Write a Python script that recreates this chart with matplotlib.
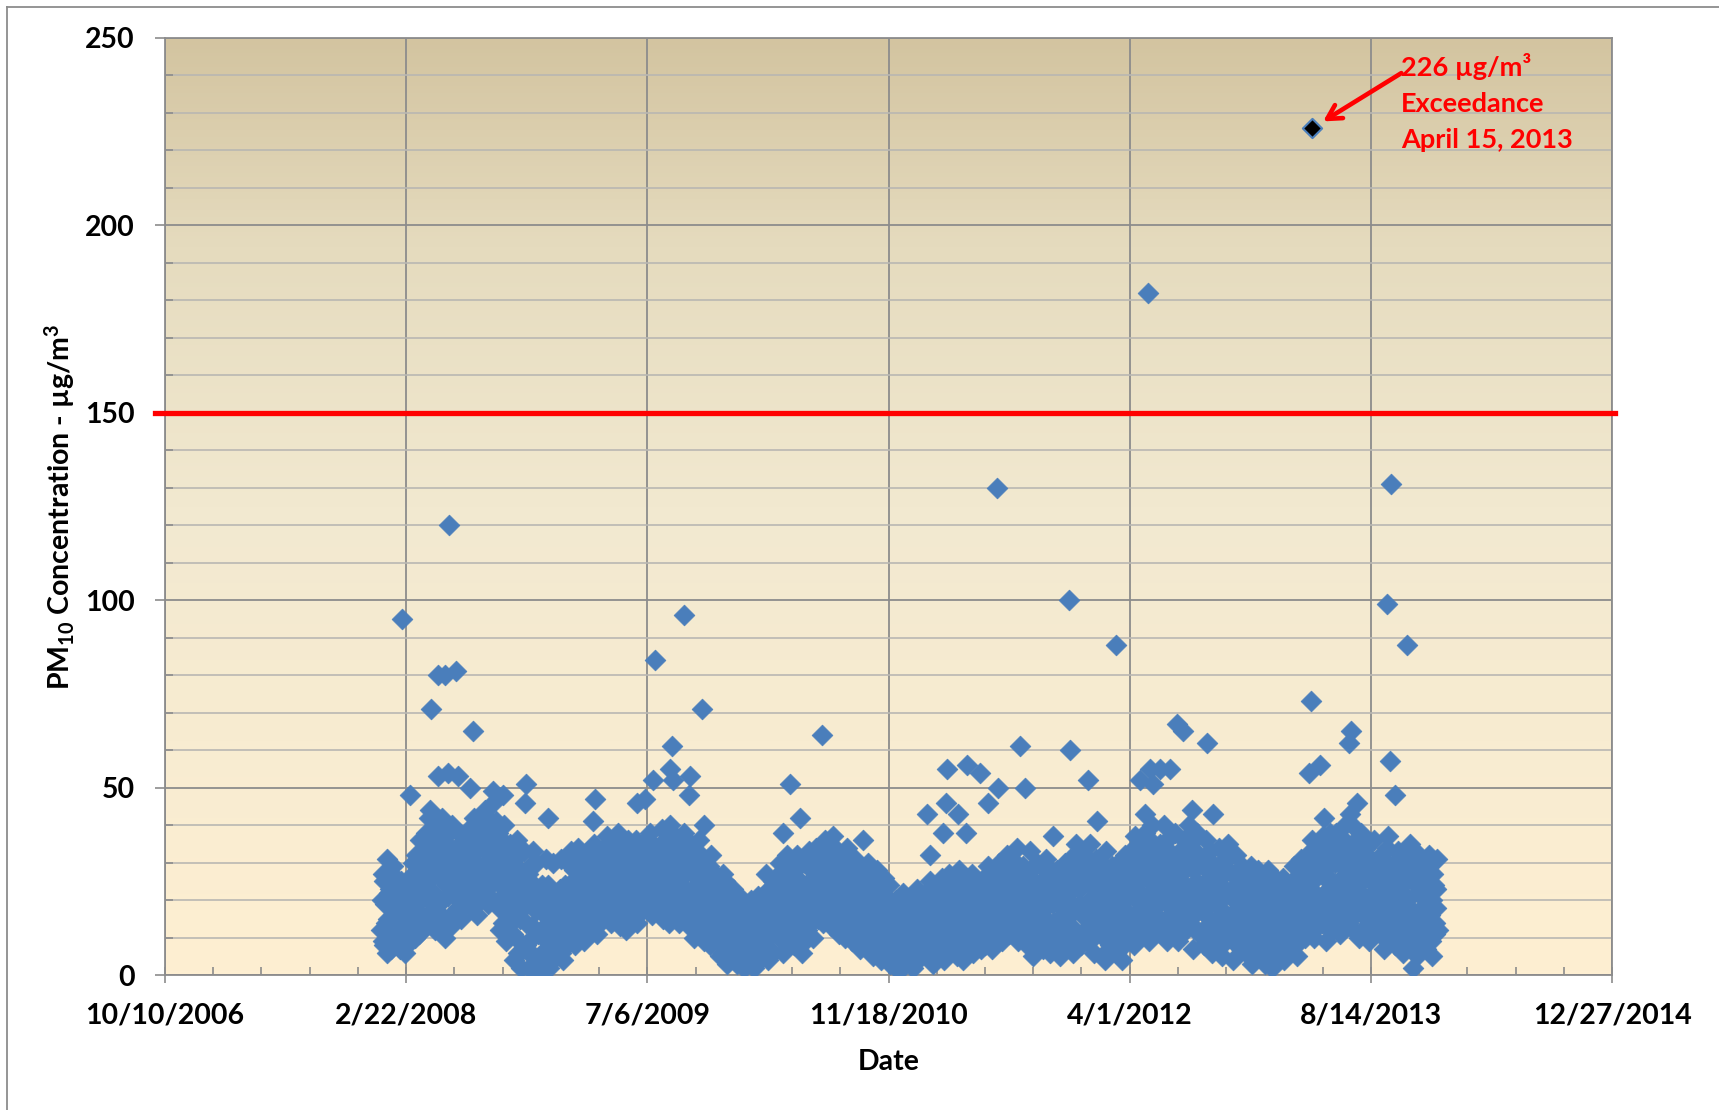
import matplotlib
matplotlib.use("Agg")
import matplotlib.pyplot as plt
import matplotlib.dates as mdates
from matplotlib.ticker import FixedLocator, FuncFormatter, MultipleLocator
from matplotlib.colors import LinearSegmentedColormap
from matplotlib.lines import Line2D
import numpy as np
import pandas as pd

# ---------------- data ----------------
# Routine PM10 samples, run A: every 3 days starting Jan 1 of each year
pm10_2008 = [12, 27, 8, 19, 31, 15, 23, 7, 29, 17,
             10, 22, 16, 7, 25, 13, 19, 9, 24, 14,
             18, 9, 27, 14, 32, 21, 11, 36, 16, 25,
             24, 38, 14, 30, 44, 19, 35, 12, 41, 27,
             33, 16, 42, 25, 10, 37, 21, 29, 13, 40,
             27, 17, 34, 22, 38, 15, 30, 24, 36, 19,
             23, 39, 18, 31, 42, 26, 16, 35, 29, 21,
             34, 22, 44, 28, 19, 40, 31, 46, 25, 37,
             26, 38, 12, 31, 20, 40, 9, 28, 17, 35,
             14, 30, 4, 22, 36, 9, 26, 2, 18, 33,
             8, 21, 2, 29, 13, 33, 5, 17, 23, 1,
             11, 24, 3, 18, 31, 7, 15, 22, 4, 30,
             9, 20]
pm10_2009 = [7, 19, 31, 12, 4, 22, 15, 30, 9, 17,
             13, 28, 8, 21, 34, 16, 24, 10, 31, 19,
             20, 33, 12, 27, 16, 35, 23, 11, 30, 18,
             25, 15, 34, 21, 37, 18, 29, 14, 32, 23,
             30, 19, 38, 13, 26, 35, 21, 12, 33, 24,
             22, 34, 16, 28, 36, 14, 25, 31, 19, 27,
             28, 18, 36, 24, 38, 16, 31, 21, 34, 26,
             32, 20, 39, 15, 27, 36, 23, 14, 40, 29,
             24, 37, 17, 30, 14, 34, 21, 38, 27, 16,
             29, 13, 35, 22, 10, 31, 18, 26, 36, 15,
             20, 9, 30, 15, 25, 8, 32, 17, 12, 27,
             12, 24, 5, 18, 27, 8, 15, 3, 21, 10,
             6, 17]
pm10_2010 = [9, 17, 3, 13, 21, 6, 15, 2, 19, 11,
             14, 4, 20, 10, 2, 17, 7, 21, 12, 5,
             8, 19, 27, 12, 4, 23, 15, 6, 25, 17,
             21, 10, 30, 16, 6, 26, 13, 32, 19, 9,
             15, 28, 8, 22, 32, 11, 25, 6, 19, 30,
             24, 12, 33, 18, 28, 10, 21, 34, 15, 27,
             19, 31, 14, 36, 24, 17, 29, 13, 34, 22,
             27, 16, 33, 11, 23, 30, 19, 10, 34, 21,
             15, 28, 9, 22, 31, 12, 18, 7, 26, 20,
             23, 8, 17, 30, 11, 26, 5, 20, 14, 28,
             10, 21, 4, 16, 26, 7, 13, 24, 3, 18,
             14, 5, 20, 9, 1, 17, 11, 22, 3, 15,
             7, 19]
pm10_2011 = [6, 16, 2, 21, 11, 23, 4, 14, 19, 8,
             13, 22, 5, 17, 25, 9, 3, 20, 11, 24,
             18, 7, 26, 12, 4, 22, 15, 27, 9, 20,
             10, 24, 16, 5, 28, 13, 21, 4, 18, 26,
             22, 9, 17, 27, 6, 14, 25, 11, 20, 7,
             15, 26, 8, 20, 29, 12, 23, 7, 18, 28,
             24, 11, 30, 17, 9, 27, 20, 32, 14, 22,
             19, 31, 12, 26, 34, 9, 22, 16, 29, 13,
             27, 8, 21, 33, 14, 5, 25, 18, 30, 11,
             16, 29, 7, 22, 31, 12, 19, 6, 26, 14,
             21, 9, 28, 15, 5, 24, 18, 30, 11, 26,
             13, 31, 19, 6, 27, 35, 10, 23, 33, 16,
             24, 12]
pm10_2012 = [28, 9, 20, 35, 14, 25, 6, 31, 17, 23,
             11, 26, 19, 4, 33, 15, 22, 8, 29, 17,
             21, 6, 30, 13, 25, 4, 18, 32, 10, 24,
             16, 33, 24, 8, 37, 20, 12, 29, 35, 18,
             27, 38, 14, 31, 9, 22, 40, 18, 34, 25,
             19, 35, 11, 28, 40, 23, 9, 32, 16, 37,
             30, 14, 38, 21, 9, 33, 25, 17, 36, 12,
             23, 40, 16, 34, 7, 28, 19, 38, 11, 31,
             17, 29, 8, 36, 22, 13, 33, 6, 26, 20,
             25, 12, 34, 18, 5, 30, 21, 9, 35, 15,
             10, 27, 4, 20, 32, 14, 23, 7, 29, 17,
             19, 6, 26, 12, 29, 3, 16, 22, 9, 28,
             14, 5]
pm10_2013 = [11, 24, 3, 17, 28, 8, 20, 2, 14, 26,
             16, 6, 23, 12, 26, 4, 19, 9, 22, 14,
             22, 9, 29, 15, 5, 26, 18, 31, 11, 24,
             18, 32, 12, 27, 36, 21, 10, 30, 15, 34,
             28, 14, 37, 22, 9, 33, 19, 38, 25, 12,
             24, 38, 16, 31, 11, 35, 20, 40, 27, 14,
             33, 19, 40, 12, 28, 36, 22, 10, 38, 25,
             21, 34, 13, 28, 9, 31, 17, 36, 24, 15,
             27, 11, 32, 19, 7, 25, 34, 14, 29, 21,
             16, 30, 8, 23, 33, 12, 26, 6, 19, 31,
             20, 9, 35, 14, 2, 28, 24, 5, 32, 17,
             25, 13, 30, 7, 21, 32, 16, 5, 27, 11,
             18, 31]

# Run B: every 3 days starting Jan 2 of each year
pm10b_2008 = [20, 9, 25, 14, 6, 22, 11, 27, 16, 21,
              18, 11, 23, 8, 15, 21, 6, 17, 12, 20,
              13, 23, 30, 10, 19, 28, 15, 22, 12, 29,
              33, 21, 16, 42, 26, 36, 22, 31, 17, 39,
              19, 35, 27, 12, 31, 24, 39, 15, 34, 22,
              32, 21, 28, 18, 33, 25, 20, 35, 26, 31,
              34, 27, 20, 37, 24, 33, 19, 28, 40, 25,
              27, 38, 23, 42, 33, 24, 36, 20, 30, 41,
              33, 18, 24, 36, 14, 29, 22, 34, 11, 25,
              25, 11, 19, 28, 6, 32, 15, 24, 7, 21,
              14, 27, 6, 19, 10, 24, 3, 30, 11, 20,
              17, 6, 20, 13, 9, 24, 2, 19, 12, 16,
              14, 5]
pm10b_2009 = [14, 23, 6, 18, 11, 24, 8, 20, 13, 33,
              25, 18, 11, 30, 22, 14, 27, 19, 9, 23,
              26, 15, 29, 21, 13, 31, 24, 17, 28, 14,
              30, 19, 27, 16, 33, 24, 20, 35, 26, 17,
              22, 34, 17, 28, 15, 31, 25, 18, 36, 20,
              29, 18, 24, 32, 21, 16, 30, 23, 35, 20,
              21, 33, 26, 19, 30, 35, 23, 28, 18, 32,
              24, 35, 18, 30, 22, 38, 17, 33, 26, 20,
              31, 20, 28, 35, 19, 26, 32, 17, 23, 34,
              20, 32, 16, 27, 14, 24, 33, 12, 21, 29,
              26, 14, 23, 11, 29, 19, 13, 24, 10, 21,
              17, 9, 22, 13, 6, 25, 11, 19, 7, 14,
              11, 23]
pm10b_2010 = [14, 5, 18, 8, 12, 4, 17, 10, 7, 16,
              9, 18, 6, 15, 11, 3, 19, 8, 14, 10,
              14, 22, 10, 18, 7, 20, 11, 25, 13, 21,
              14, 25, 11, 22, 28, 18, 9, 24, 15, 28,
              20, 12, 26, 17, 10, 29, 14, 23, 18, 9,
              17, 29, 21, 14, 31, 25, 16, 23, 30, 19,
              26, 16, 32, 21, 28, 15, 33, 20, 25, 30,
              22, 31, 14, 26, 18, 29, 13, 24, 17, 28,
              21, 13, 25, 17, 10, 28, 15, 23, 11, 18,
              15, 25, 12, 21, 8, 18, 27, 10, 24, 16,
              15, 8, 22, 11, 19, 5, 14, 20, 9, 12,
              9, 18, 7, 14, 4, 12, 19, 6, 10, 16,
              12, 4]
pm10b_2011 = [12, 19, 7, 15, 9, 17, 5, 20, 10, 14,
              18, 8, 14, 21, 6, 16, 12, 22, 7, 15,
              12, 22, 17, 8, 24, 14, 19, 6, 23, 11,
              19, 8, 22, 14, 10, 24, 17, 8, 21, 13,
              15, 24, 12, 19, 10, 22, 16, 8, 24, 18,
              21, 11, 17, 25, 14, 19, 10, 26, 16, 22,
              16, 27, 20, 13, 24, 15, 29, 18, 11, 26,
              25, 15, 22, 18, 29, 13, 27, 21, 11, 24,
              16, 23, 12, 26, 19, 9, 29, 14, 22, 8,
              23, 10, 18, 26, 15, 9, 22, 28, 13, 19,
              14, 23, 8, 19, 26, 12, 22, 9, 17, 20,
              22, 9, 28, 17, 12, 24, 30, 19, 8, 26,
              18, 29]
pm10b_2012 = [18, 31, 12, 24, 29, 10, 21, 27, 13, 19,
              22, 14, 29, 10, 24, 19, 7, 27, 13, 21,
              15, 26, 10, 22, 17, 28, 8, 20, 14, 27,
              26, 13, 30, 21, 15, 32, 25, 11, 22, 28,
              20, 32, 26, 16, 36, 12, 29, 24, 15, 33,
              27, 15, 31, 22, 14, 34, 19, 26, 12, 29,
              22, 31, 17, 27, 13, 24, 32, 20, 28, 15,
              29, 15, 35, 21, 13, 33, 25, 17, 30, 22,
              24, 12, 31, 16, 28, 19, 10, 30, 14, 23,
              19, 29, 8, 24, 14, 27, 16, 31, 11, 22,
              16, 23, 12, 27, 8, 19, 28, 13, 22, 10,
              13, 22, 9, 18, 24, 7, 20, 14, 26, 11,
              21, 9]
pm10b_2013 = [18, 7, 22, 13, 24, 5, 16, 21, 10, 19,
              10, 20, 15, 8, 18, 22, 12, 16, 6, 19,
              14, 25, 19, 8, 21, 12, 27, 16, 20, 10,
              25, 16, 29, 23, 14, 32, 19, 26, 13, 28,
              20, 31, 17, 26, 13, 29, 23, 15, 34, 19,
              30, 20, 34, 25, 17, 29, 36, 22, 15, 32,
              26, 15, 31, 23, 34, 17, 27, 21, 31, 16,
              27, 17, 30, 20, 13, 25, 22, 29, 12, 26,
              19, 28, 15, 24, 12, 30, 17, 22, 10, 25,
              22, 13, 27, 18, 10, 24, 15, 29, 11, 21,
              13, 26, 18, 8, 30, 16, 11, 22, 28, 10,
              18, 27, 10, 23, 15, 29, 9, 20, 24, 14,
              23, 12]

# High-concentration days
high_dates = ["2008-02-13", "2008-03-01", "2008-04-14", "2008-04-27", "2008-04-29",
              "2008-05-12", "2008-05-19", "2008-05-20", "2008-06-04", "2008-06-09",
              "2008-07-03", "2008-07-09", "2008-08-20", "2008-09-10", "2008-10-25",
              "2008-10-28", "2008-12-12", "2009-03-16", "2009-03-19", "2009-06-14",
              "2009-07-01", "2009-07-18", "2009-07-22", "2009-08-22", "2009-08-26",
              "2009-08-29", "2009-09-20", "2009-09-30", "2009-10-03", "2009-10-27",
              "2009-10-31", "2010-04-13", "2010-04-28", "2010-05-19", "2010-07-03",
              "2010-07-26", "2010-09-27", "2011-02-05", "2011-02-12", "2011-03-12",
              "2011-03-17", "2011-03-19", "2011-04-12", "2011-04-27", "2011-04-29",
              "2011-05-27", "2011-06-13", "2011-06-30", "2011-07-04", "2011-08-18",
              "2011-08-28", "2011-10-26", "2011-11-27", "2011-11-29", "2012-01-06",
              "2012-01-24", "2012-03-04", "2012-04-23", "2012-05-03", "2012-05-09",
              "2012-05-13", "2012-05-20", "2012-06-03", "2012-06-24", "2012-07-08",
              "2012-07-21", "2012-08-09", "2012-09-08", "2012-09-21", "2013-04-07",
              "2013-04-12", "2013-05-01", "2013-05-08", "2013-06-30", "2013-07-03",
              "2013-07-02", "2013-07-16", "2013-09-17", "2013-09-19", "2013-09-23",
              "2013-09-24", "2013-10-03", "2013-10-28"]
high_values = [95, 48, 71, 53, 80,
               80, 54, 120, 81, 53,
               50, 65, 49, 48, 46,
               51, 42, 41, 47, 46,
               47, 52, 84, 55, 61,
               52, 96, 48, 53, 71,
               40, 38, 51, 42, 64,
               37, 36, 43, 32, 38,
               46, 55, 43, 38, 56,
               54, 46, 130, 50, 61,
               50, 37, 100, 60, 52,
               41, 88, 52, 43, 182,
               55, 51, 55, 55, 67,
               65, 44, 62, 43, 54,
               73, 56, 42, 62, 65,
               43, 46, 99, 37, 57,
               131, 48, 88]

exceed_date = "2013-04-15"
exceed_value = 226
standard_value = 150

x_tick_labels = ["10/10/2006", "2/22/2008", "7/6/2009", "11/18/2010",
                 "4/1/2012", "8/14/2013", "12/27/2014"]
y_ticks = [0, 50, 100, 150, 200, 250]

# ---------------- figure ----------------
plt.rcParams["font.family"] = ["Lato", "DejaVu Sans"]
plt.rcParams["font.weight"] = "bold"
plt.rcParams["mathtext.default"] = "regular"

W, H = 1719, 1110
fig = plt.figure(figsize=(W / 100, H / 100), dpi=100, facecolor="white")
L, R, T, B = 165, 1612, 38, 975
ax = fig.add_axes([L / W, (H - B) / H, (R - L) / W, (B - T) / H])

# outer chart border
fig.add_artist(Line2D([6.5 / W, 6.5 / W], [0, 1 - 6.5 / H], transform=fig.transFigure,
                      color="#8C8C8C", lw=1.3))
fig.add_artist(Line2D([6.5 / W, 1], [1 - 6.5 / H, 1 - 6.5 / H], transform=fig.transFigure,
                      color="#8C8C8C", lw=1.3))

# gradient background
cmap = LinearSegmentedColormap.from_list(
    "bg", [(0.0, (254/255, 239/255, 210/255)), (0.5, (242/255, 233/255, 208/255)),
           (0.78, (229/255, 219/255, 190/255)), (1.0, (211/255, 196/255, 160/255))])
grad = np.linspace(0, 1, 256).reshape(-1, 1)
ax.imshow(grad, cmap=cmap, origin="lower", extent=[0, 1, 0, 1], transform=ax.transAxes,
          aspect="auto", zorder=0)

# data series
base_dates, base_vals = [], []
runs = [(1, [(2008, pm10_2008), (2009, pm10_2009), (2010, pm10_2010),
             (2011, pm10_2011), (2012, pm10_2012), (2013, pm10_2013)]),
        (2, [(2008, pm10b_2008), (2009, pm10b_2009), (2010, pm10b_2010),
             (2011, pm10b_2011), (2012, pm10b_2012), (2013, pm10b_2013)])]
for day0, years in runs:
    for year, vals in years:
        base_dates.extend(pd.date_range(f"{year}-01-{day0:02d}", periods=len(vals), freq="3D"))
        base_vals.extend(vals)
all_dates = np.array(list(base_dates) + list(pd.to_datetime(high_dates)), dtype="datetime64[ns]")
all_vals = np.array(base_vals + high_values)
order = np.argsort(all_dates)
xd = mdates.date2num(all_dates[order])
yv = all_vals[order]

blue = "#4A7EBB"
ax.scatter(xd, yv, marker="D", s=112, facecolor=blue, edgecolor=blue, linewidths=0.5,
           zorder=4)
ex_x = mdates.date2num(pd.Timestamp(exceed_date))
ax.scatter([ex_x], [exceed_value], marker="D", s=96, facecolor="black", edgecolor=blue,
           linewidths=1.5, zorder=5)

ax.axhline(standard_value, xmin=-10 / (R - L), xmax=1.002, color="#FF0000", lw=3.8,
           zorder=3, clip_on=False)

# axes scales
xt = pd.to_datetime(x_tick_labels, format="%m/%d/%Y")
xt_num = mdates.date2num(xt)
ax.set_xlim(xt_num[0], xt_num[-1])
ax.set_ylim(0, 250)
ax.xaxis.set_major_locator(FixedLocator(xt_num))
ax.xaxis.set_major_formatter(FuncFormatter(
    lambda v, p: f"{mdates.num2date(v).month}/{mdates.num2date(v).day}/{mdates.num2date(v).year}"))
ax.xaxis.set_minor_locator(FixedLocator(np.arange(xt_num[0], xt_num[-1] + 1, 100)))
ax.yaxis.set_major_locator(FixedLocator(y_ticks))
ax.yaxis.set_minor_locator(MultipleLocator(10))

grid_dark = "#8C8C8C"
ax.yaxis.grid(True, which="minor", color="#B9B7B2", lw=1.2, zorder=1)
ax.yaxis.grid(True, which="major", color=grid_dark, lw=1.3, zorder=1)
ax.xaxis.grid(True, which="major", color=grid_dark, lw=1.3, zorder=1)
ax.set_axisbelow(True)
for s in ax.spines.values():
    s.set_color(grid_dark)
    s.set_linewidth(1.3)

ax.tick_params(axis="x", which="major", direction="inout", length=11, width=1.2,
               color=grid_dark, pad=14, labelsize=20.5)
ax.tick_params(axis="x", which="minor", direction="in", length=5.5, width=1.2,
               color=grid_dark)
ax.tick_params(axis="y", which="major", direction="out", length=7, width=1.2,
               color=grid_dark, pad=15, labelsize=20.5)
ax.tick_params(axis="y", which="minor", direction="in", length=5.5, width=1.2,
               color=grid_dark)
for lab in ax.get_xticklabels() + ax.get_yticklabels():
    lab.set_fontweight("bold")

ax.set_xlabel("Date", fontsize=20.5, fontweight="bold")
ax.xaxis.set_label_coords(0.5, -(1049 - B) / (B - T))
ax.set_ylabel("PM$_{10}$ Concentration - µg/m$^{3}$", fontsize=20.5, fontweight="bold",
              va="center")
ax.yaxis.set_label_coords((60 - L) / (R - L), 0.5)

# exceedance annotation
ax.annotate("", xy=(ex_x, exceed_value), xytext=(64, 39.5), textcoords="offset points",
            arrowprops=dict(arrowstyle="->,head_length=1.0,head_width=0.55", color="#FF0000",
                            lw=3.3, shrinkA=0, shrinkB=9), zorder=6)
ax.annotate("226 µg/m³\nExceedance\nApril 15, 2013", xy=(ex_x, exceed_value),
            xytext=(64, 54), textcoords="offset points", ha="left", va="top",
            color="#FF0000", fontsize=19.5, fontweight="bold", linespacing=1.6, zorder=6)

fig.savefig("out.png", dpi=100, facecolor="white")
